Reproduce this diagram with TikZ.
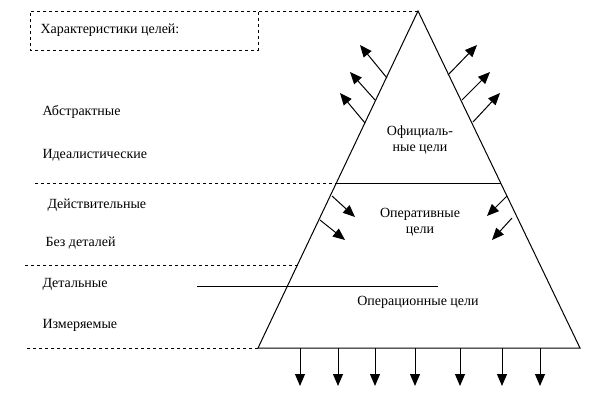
\documentclass[tikz,border=0pt]{standalone}
\usepackage{fontspec}
\setmainfont{Liberation Serif}
\usetikzlibrary{arrows.meta}
\tikzset{
  lbl/.style={font=\rmfamily\fontsize{14}{16}\selectfont, align=center},
  side/.style={lbl, anchor=west, inner sep=0pt},
  flow/.style={line width=1pt,-{Triangle[length=12pt,width=10pt]}},
  sep/.style={dashed, line width=1pt}
}
\begin{document}
\begin{tikzpicture}[x=1pt,y=-1pt,line width=1pt]
\useasboundingbox (0,0) rectangle (602,402);
% pyramid
\coordinate (apex) at (418,11);
\coordinate (bl) at (258,348);
\coordinate (br) at (580,348);
\draw (apex) -- (bl) -- (br) -- cycle;
\coordinate (ml) at (337,183);
\coordinate (mr) at (501,183);
\draw (ml) -- (mr);
% dashed lines and box
\coordinate (b1) at (30,11);
\coordinate (b2) at (258,50);
\draw[sep] (apex) -- (b1) |- (b2) -- (258,11);
\coordinate (d1) at (35,183);
\draw[sep] (d1) -- (ml);
\coordinate (d2) at (25,265);
\coordinate (d2e) at (298,265);
\draw[sep] (d2) -- (d2e);
\coordinate (d3) at (27,348);
\draw[sep] (d3) -- (bl);
\coordinate (s1) at (197,286);
\coordinate (s2) at (438,286);
\draw (s1) -- (s2);
% labels
\node[side] (head) at (40,30) {Характеристики целей:};
\node[side] (abs) at (42,112) {Абстрактные};
\node[side] (ideal) at (42,155) {Идеалистические};
\node[side] (real) at (47,205) {Действительные};
\node[side] (nodet) at (45,243) {Без деталей};
\node[side] (det) at (42,284) {Детальные};
\node[side] (meas) at (42,325) {Измеряемые};
\node[lbl] (off) at (420,140) {Официаль-\\ные цели};
\node[lbl] (oper) at (420,222) {Оперативные\\цели};
\node[lbl] (opc) at (418,302) {Операционные цели};
% arrows
\foreach \a/\b/\c/\d in {387/78/360/45, 375/100/350/72, 365/123/340/93,
  448/75/477/45, 462/100/490/72, 473/122/500/93,
  332/196/355/217, 320/220/345/240, 507/196/487/216, 512/218/492/240}
  \draw[flow] (\a,\b) -- (\c,\d);
\foreach \x in {300,338,375,415,460,502,540}
  \draw[flow] (\x,348) -- (\x,386);
\end{tikzpicture}
\end{document}
